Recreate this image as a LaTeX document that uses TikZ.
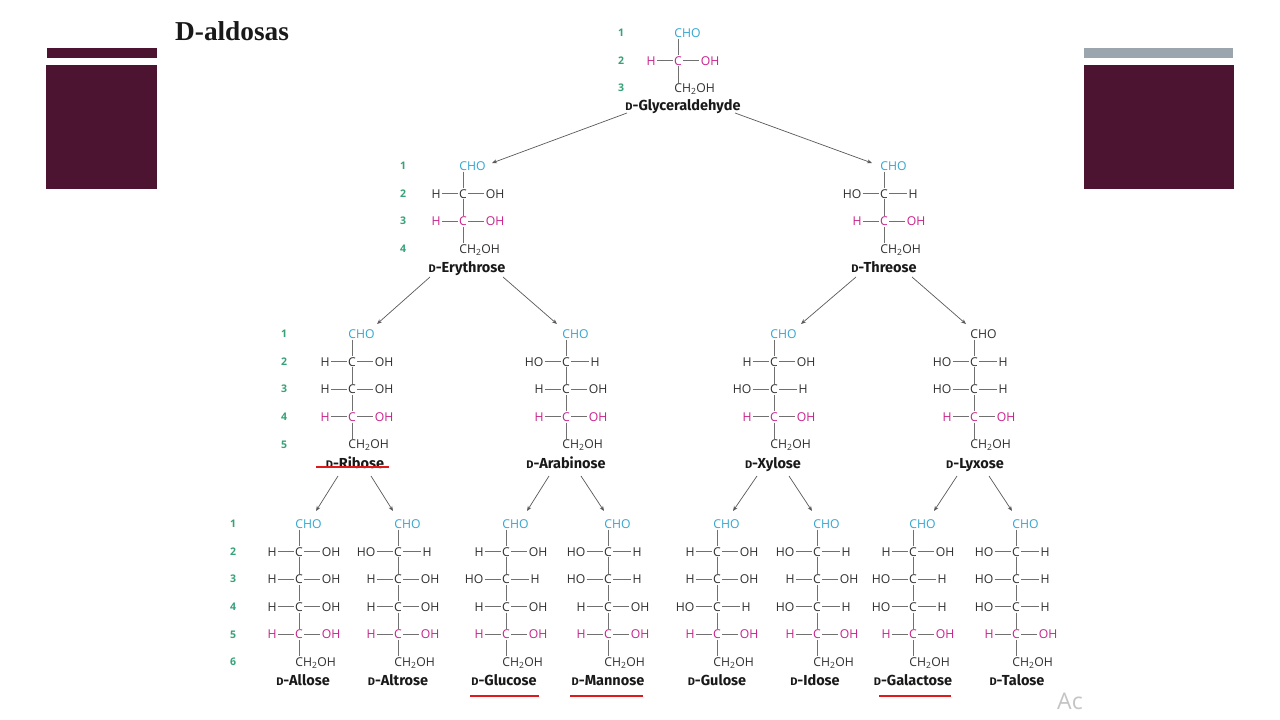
\documentclass[tikz,border=0pt]{standalone}
\usepackage{fontspec}
\setmainfont{Open Sans}
\newfontfamily\ttl{Fira Sans}
\newfontfamily\hdr{Liberation Serif}
\usetikzlibrary{arrows.meta}
\definecolor{plum}{HTML}{4D1432}
\definecolor{slate}{HTML}{9AA5AE}
\definecolor{ink}{HTML}{303030}
\definecolor{cyn}{HTML}{33A6D0}
\definecolor{mag}{HTML}{C9228C}
\definecolor{grn}{HTML}{36A278}
\definecolor{bond}{HTML}{707070}
\definecolor{ulred}{HTML}{E01A1A}
\definecolor{wm}{HTML}{C4C4C4}
\tikzset{
 x=1pt,y=-1pt,
 atom/.style={inner sep=1.1pt,text height=8.8pt,text depth=0pt,font=\fontsize{12.2}{12.2}\selectfont},
 numlab/.style={inner sep=0pt,text=grn,font=\bfseries\fontsize{10.5}{10.5}\selectfont},
 title/.style={inner sep=0pt,text height=12pt,text depth=2pt,text=black!90,font=\ttl\bfseries\fontsize{14.5}{14.5}\selectfont},
 bondline/.style={draw=bond,line width=.9pt},
 conn/.style={draw=black!65,line width=.7pt,-{Stealth[length=5pt,width=4pt]}},
 ul/.style={draw=ulred,line width=2.4pt},
}
\newcommand\sugname[1]{{\fontsize{11}{11}\selectfont D}-#1}
% name, C x, top y, rows, CHO colour, title, title x, title y
\newcommand\mol[8]{%
 \node[atom,anchor=west,text=#5] (#1cho) at (#2-5,#3) {CHO};
 \foreach \s [count=\i] in {#4}{%
  \if P\s\def\rowc{mag}\else\def\rowc{ink}\fi
  \node[atom,text=\rowc] (#1c\i) at (#2,#3+27.6*\i) {C};
  \if l\s
   \node[atom,text=\rowc] (#1l\i) at (#2-32,#3+27.6*\i) {HO};
   \node[atom,text=\rowc] (#1r\i) at (#2+29,#3+27.6*\i) {H};
  \else
   \node[atom,text=\rowc] (#1l\i) at (#2-27,#3+27.6*\i) {H};
   \node[atom,text=\rowc] (#1r\i) at (#2+32,#3+27.6*\i) {OH};
  \fi
  \draw[bondline] (#1l\i) -- (#1c\i);
  \draw[bondline] (#1c\i) -- (#1r\i);
  \ifnum\i=1
   \draw[bondline] (#1c1 |- #1cho.south) -- (#1c1);
  \else
   \pgfmathtruncatemacro\pv{\i-1}
   \draw[bondline] (#1c\pv) -- (#1c\i);
  \fi
  \xdef\lastc{\i}
  \pgfmathsetmacro\ych{#3+27.6*(\i+1)}
  \xdef\ychg{\ych}
 }
 \node[atom,anchor=west,text=ink] (#1ch) at (#2-5,\ychg) {CH\textsubscript{2}OH};
 \draw[bondline] (#1c\lastc) -- (#1c\lastc |- #1ch.north);
 \node[title] (#1) at (#7,#8) {\sugname{#6}};
}
\newcommand\nums[4]{%
 \foreach \k in {1,...,#4}{
  \node[numlab] (#1n\k) at (#2,#3+27.6*\k-27.6) {\k};
 }
}
% from, dx, dy, to, dx, dy
\newcommand\link[6]{\draw[conn] ([shift={(#2,#3)}]#1.center) -- ([shift={(#5,#6)}]#4cho.west);}
\newcommand\under[5]{\draw[ul] ([shift={(#2,#4)}]#1.center) -- ([shift={(#3,#5)}]#1.center);}
\begin{document}
\begin{tikzpicture}
\useasboundingbox (0,0) rectangle (1280,720);
\fill[white] (0,0) rectangle (1280,720);
% decorative bars
\fill[plum] (47,48) rectangle (157,58);
\fill[plum] (46,65) rectangle (157,189);
\fill[slate] (1084,48) rectangle (1233,58);
\fill[plum] (1084,65) rectangle (1234,189);
\node[anchor=west,inner sep=0pt,font=\hdr\bfseries\fontsize{27.3}{27.3}\selectfont,text=black!90] (heading) at (175,31) {D-aldosas};
\node[anchor=west,inner sep=0pt,font=\fontsize{23}{23}\selectfont,text=wm] (wmark) at (1057,701) {Ac};
% level 1
\nums{gly}{621}{33}{3}
\mol{gly}{678}{33}{P}{cyn}{Glyceraldehyde}{683}{105}
% level 2
\nums{ery}{403}{166}{4}
\mol{ery}{463}{166}{r,P}{cyn}{Erythrose}{467}{267}
\mol{thr}{884}{166}{l,P}{cyn}{Threose}{884}{267}
% level 3
\nums{rib}{284}{334}{5}
\mol{rib}{352}{334}{r,r,P}{cyn}{Ribose}{355}{463}
\mol{ara}{566}{334}{l,r,P}{cyn}{Arabinose}{566}{463}
\mol{xyl}{774}{334}{r,l,P}{cyn}{Xylose}{773}{463}
\mol{lyx}{974}{334}{l,l,P}{ink}{Lyxose}{975}{463}
% level 4
\nums{all}{233}{524}{6}
\mol{all}{299}{524}{r,r,r,P}{cyn}{Allose}{303}{680}
\mol{alt}{398}{524}{l,r,r,P}{cyn}{Altrose}{398}{680}
\mol{glu}{506}{524}{r,l,r,P}{cyn}{Glucose}{504}{680}
\mol{man}{608}{524}{l,l,r,P}{cyn}{Mannose}{608}{680}
\mol{gul}{717}{524}{r,r,l,P}{cyn}{Gulose}{717}{680}
\mol{ido}{817}{524}{l,r,l,P}{cyn}{Idose}{815}{680}
\mol{gal}{913}{524}{r,l,l,P}{cyn}{Galactose}{913}{680}
\mol{tal}{1016}{524}{l,l,l,P}{cyn}{Talose}{1017}{680}
% connectors
\link{gly}{-56}{8}{ery}{34}{-3}
\link{gly}{52}{8}{thr}{-7}{-3}
\link{ery}{-37}{10}{rib}{30}{-10}
\link{ery}{36}{10}{ara}{-4}{-10}
\link{thr}{-28}{10}{xyl}{32}{-10}
\link{thr}{28}{10}{lyx}{-3}{-10}
\link{rib}{-17}{13}{all}{22}{-13}
\link{rib}{16}{13}{alt}{0}{-13}
\link{ara}{-17}{13}{glu}{26}{-13}
\link{ara}{15}{13}{man}{1}{-13}
\link{xyl}{-16}{13}{gul}{21}{-13}
\link{xyl}{16}{13}{ido}{0}{-13}
\link{lyx}{-18}{13}{gal}{26}{-13}
\link{lyx}{14}{13}{tal}{1}{-13}
% red underlines
\under{rib}{-39}{34}{4}{4}
\under{glu}{-34}{35}{16}{16}
\under{man}{-38}{35}{16}{16}
\under{gal}{-34}{38}{16}{16}
\end{tikzpicture}
\end{document}
